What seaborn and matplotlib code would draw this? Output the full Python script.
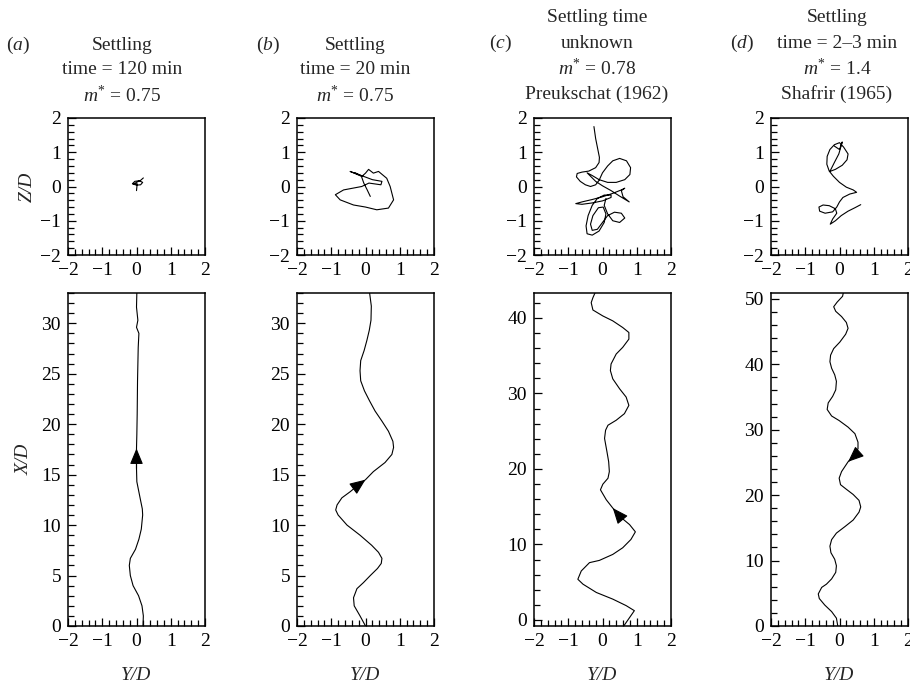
import numpy as np
import pandas as pd
import matplotlib
matplotlib.use("Agg")
import matplotlib.pyplot as plt
import seaborn as sns
from matplotlib.ticker import MultipleLocator

# ---------------- data ----------------
# top row: cross-stream trajectory (Y/D, Z/D)
a_top_Y = [0.0, 0.02, -0.12, -0.05, 0.08, 0.18, 0.12, 0.0, -0.1, 0.0, 0.12, 0.2]
a_top_Z = [-0.12, 0.08, 0.08, 0.15, 0.17, 0.12, 0.05, 0.04, 0.07, 0.12, 0.18, 0.25]

b_top_Y = [0.14, 0.05, -0.05, -0.12, -0.45, -0.2, 0.2, 0.48, 0.45, 0.1, -0.11, -0.64, -0.88,
           -0.74, -0.35, 0.0, 0.33, 0.67, 0.82, 0.72, 0.62, 0.38, 0.23, 0.09, 0.0, -0.1, -0.3]
b_top_Z = [-0.29, -0.1, 0.1, 0.3, 0.44, 0.35, 0.2, 0.15, 0.05, 0.1, 0.0, -0.1, -0.24,
           -0.39, -0.54, -0.6, -0.68, -0.63, -0.39, 0.0, 0.24, 0.44, 0.39, 0.5, 0.39, 0.3, 0.4]

c_top_Y = [-0.25, -0.2, -0.14, -0.09, -0.1,
           -0.2, -0.4, -0.6, -0.74, -0.76, -0.65, -0.5, -0.35, -0.2, -0.1,
           0.0, 0.15, 0.3, 0.5, 0.7, 0.82, 0.8, 0.65, 0.4, 0.15, -0.1, -0.3, -0.45,
           -0.35, -0.2, 0.0, 0.25, 0.5, 0.78, 0.6, 0.55, 0.65, 0.55, 0.3, 0.0, -0.3, -0.6,
           -0.78, -0.6, -0.3, 0.0, 0.25, 0.25, 0.05, -0.15,
           -0.3, -0.42, -0.48, -0.45, -0.3, -0.1, 0.05, 0.1, 0.02, -0.12, -0.28, -0.35,
           -0.3, -0.15, 0.0, 0.15, 0.35, 0.55, 0.65, 0.5, 0.3, 0.15, 0.05, 0.1]
c_top_Z = [1.75, 1.4, 1.1, 0.85, 0.7,
           0.55, 0.45, 0.42, 0.38, 0.28, 0.15, 0.05, 0.0, 0.05, 0.18,
           0.4, 0.6, 0.75, 0.82, 0.75, 0.55, 0.35, 0.2, 0.12, 0.12, 0.2, 0.32, 0.4,
           0.3, 0.15, 0.02, -0.12, -0.28, -0.45, -0.3, -0.12, -0.05, -0.1, -0.2, -0.3, -0.38, -0.45,
           -0.5, -0.52, -0.48, -0.42, -0.32, -0.25, -0.25, -0.35,
           -0.55, -0.85, -1.15, -1.38, -1.42, -1.3, -1.05, -0.8, -0.6, -0.62, -0.85, -1.1,
           -1.28, -1.25, -1.05, -0.85, -0.75, -0.78, -0.92, -1.05, -1.0, -0.8, -0.55, -0.35]

d_top_Y = [0.62, 0.45, 0.25, 0.05, -0.12, -0.27, -0.2, -0.08, -0.12, -0.3, -0.48, -0.6, -0.58,
           -0.42, -0.2, -0.08, 0.0, 0.1, 0.3, 0.5, 0.4, 0.2, 0.0, -0.18, -0.3, -0.37, -0.36,
           -0.28, -0.15, 0.0, 0.12, 0.25, 0.22, 0.08, -0.12, -0.28, -0.15, -0.02, 0.08, 0.0, -0.15]
d_top_Z = [-0.53, -0.62, -0.72, -0.85, -1.0, -1.1, -0.95, -0.78, -0.65, -0.56, -0.54, -0.6, -0.72,
           -0.78, -0.74, -0.6, -0.45, -0.32, -0.22, -0.17, -0.1, -0.02, 0.12, 0.3, 0.45, 0.65, 0.88,
           1.08, 1.22, 1.28, 1.15, 0.95, 0.78, 0.62, 0.5, 0.44, 0.7, 0.95, 1.3, 1.08, 1.18]

# bottom row: streamwise trajectory (Y/D, X/D)
a_bot_Y = [0.19, 0.2, 0.16, 0.06, -0.1, -0.18, -0.21, -0.18, -0.03, 0.07, 0.14, 0.18, 0.17,
           0.11, 0.01, 0.0, 0.0, 0.01, 0.02, 0.03, 0.05, 0.07, 0.0, 0.04, 0.0, 0.01]
a_bot_X = [0, 1, 2, 3, 4, 5, 6, 6.7, 7.6, 8.6, 9.6, 11, 11.6,
           12.6, 14.3, 15.6, 17.6, 19, 21, 24.3, 27.6, 29, 29.6, 30.3, 31.6, 33]

b_bot_Y = [0.0, -0.16, -0.33, -0.35, -0.25, -0.06, 0.14, 0.35, 0.46, 0.48, 0.38, 0.18, -0.16,
           -0.54, -0.8, -0.87, -0.83, -0.69, -0.45, -0.2, 0.0, 0.23, 0.57, 0.77, 0.82, 0.8,
           0.67, 0.48, 0.28, 0.12, -0.03, -0.14, -0.16, -0.14, -0.04, 0.04, 0.11, 0.16, 0.17, 0.12]
b_bot_X = [0, 1, 2, 2.8, 3.7, 4.3, 5, 5.7, 6.2, 6.7, 7.3, 8, 9,
           10, 11, 11.5, 12, 12.7, 13.3, 14, 14.5, 15.3, 16.2, 17, 17.7, 18.3,
           19.3, 20.3, 21.3, 22.3, 23.3, 24.3, 25.3, 26.3, 27.3, 28.3, 29.3, 30.3, 31.7, 33]

c_bot_Y = [0.62, 0.93, 0.69, 0.30, -0.18, -0.57, -0.72, -0.62, -0.38, -0.09, 0.30, 0.59, 0.83,
           0.96, 0.79, 0.50, 0.30, 0.11, -0.06, 0.01, 0.16, 0.20, 0.18, 0.13, 0.06, 0.09, 0.16,
           0.40, 0.64, 0.77, 0.69, 0.50, 0.30, 0.23, 0.25, 0.40, 0.59, 0.77, 0.77, 0.59, 0.30,
           0.01, -0.28, -0.33, -0.28, -0.21]
c_bot_X = [-0.8, 1.23, 1.9, 2.76, 3.64, 4.74, 5.39, 6.49, 7.59, 7.89, 8.68, 9.56, 10.66,
           11.67, 12.63, 13.73, 14.82, 15.92, 17.24, 17.98, 18.77, 19.65, 20.96, 22.28, 24.04, 25.13, 25.79,
           26.45, 27.32, 28.42, 29.52, 30.61, 31.93, 33.03, 33.9, 35.22, 36.1, 37.19, 38.07, 38.73, 39.61,
           40.26, 41.05, 42.02, 42.68, 43.4]

d_bot_Y = [-0.05, -0.09, -0.23, -0.43, -0.59, -0.62, -0.52, -0.38, -0.23, -0.11, -0.09, -0.14, -0.25,
           -0.28, -0.23, -0.09, 0.16, 0.40, 0.57, 0.62, 0.57, 0.40, 0.20, 0.03, -0.01, 0.06, 0.25,
           0.42, 0.54, 0.54, 0.45, 0.25, -0.01, -0.23, -0.36, -0.33, -0.20, -0.11, -0.09, -0.14, -0.23,
           -0.28, -0.26, -0.17, 0.01, 0.18, 0.25, 0.20, 0.06, -0.11, -0.17, -0.07, 0.09, 0.11]
d_bot_X = [0.0, 1.2, 2.2, 3.2, 4.2, 4.9, 5.9, 6.4, 7.2, 8.2, 9.2, 10.2, 11.2,
           12.2, 13.2, 14.2, 15.2, 16.2, 17.4, 18.2, 19.2, 20.1, 20.9, 21.6, 22.6, 23.6, 25.1,
           25.9, 27.1, 28.1, 29.4, 30.4, 31.4, 32.1, 33.1, 34.1, 35.1, 36.1, 37.4, 38.4, 39.4,
           40.4, 41.4, 42.4, 43.4, 44.6, 45.5, 46.4, 47.3, 48.1, 48.8, 49.5, 50.4, 50.9]

panel_letters = ["a", "b", "c", "d"]
titles = [["Settling", "time = 120 min", r"$m^{*}$ = 0.75"],
          ["Settling", "time = 20 min", r"$m^{*}$ = 0.75"],
          ["Settling time", "unknown", r"$m^{*}$ = 0.78", "Preukschat (1962)"],
          ["Settling", "time = 2–3 min", r"$m^{*}$ = 1.4", "Shafrir (1965)"]]
bot_ylims = [(0, 33), (0, 33), (-0.8, 43.3), (0, 50.9)]
bot_major = [5, 5, 10, 10]
bot_minor = [1, 1, 2, 2]
# arrow: (index of arrow tip, index of arrow tail) along each bottom trajectory
arrow_idx = [(16, 15), (20, 19), (16, 15), (26, 27)]

tops = [(a_top_Y, a_top_Z), (b_top_Y, b_top_Z), (c_top_Y, c_top_Z), (d_top_Y, d_top_Z)]
bots = [(a_bot_Y, a_bot_X), (b_bot_Y, b_bot_X), (c_bot_Y, c_bot_X), (d_bot_Y, d_bot_X)]

# ---------------- style ----------------
sns.set_style("ticks")
plt.rcParams["font.family"] = ["Liberation Serif", "DejaVu Serif"]
plt.rcParams["mathtext.fontset"] = "custom"
plt.rcParams["mathtext.rm"] = "Liberation Serif"
plt.rcParams["mathtext.it"] = "Liberation Serif:italic"
FS = 14

W, H = 910, 688
fig = plt.figure(figsize=(W / 100, H / 100), dpi=100)
fig.patch.set_facecolor("white")

lefts = [68, 297, 534, 771]
aw = 137
title_cx = [122, 355, 597, 837]
label_pos = [(18, 45), (268, 45), (500, 43), (742, 43)]
title_y3 = [45, 70, 95]
title_y4 = [17, 43, 68, 94]


def style_axis(ax, xmaj, xmin, ymaj, ymin):
    ax.xaxis.set_major_locator(MultipleLocator(xmaj))
    ax.xaxis.set_minor_locator(MultipleLocator(xmin))
    ax.yaxis.set_major_locator(MultipleLocator(ymaj))
    ax.yaxis.set_minor_locator(MultipleLocator(ymin))
    ax.tick_params(which="both", direction="in", top=False, right=False,
                   labelsize=FS, width=0.9, colors="black", pad=5)
    ax.tick_params(which="major", length=6)
    ax.tick_params(which="minor", length=4)
    for s in ax.spines.values():
        s.set_linewidth(1.1)
        s.set_color("black")
        s.set_visible(True)
    ax.set_facecolor("white")


for i in range(4):
    l = lefts[i]
    # top panel
    axt = fig.add_axes([l / W, 1 - 255 / H, aw / W, 137 / H])
    ty, tz = tops[i]
    sns.lineplot(x=ty, y=tz, sort=False, estimator=None, color="black", lw=0.8, ax=axt)
    axt.set_xlim(-2, 2)
    axt.set_ylim(-2, 2)
    style_axis(axt, 1, 0.2, 1, 0.2)
    axt.set_xlabel("")
    axt.set_ylabel("")

    # bottom panel
    axb = fig.add_axes([l / W, 1 - 626 / H, aw / W, 333 / H])
    by, bx = bots[i]
    sns.lineplot(x=by, y=bx, sort=False, estimator=None, color="black", lw=0.8, ax=axb)
    axb.set_xlim(-2, 2)
    axb.set_ylim(*bot_ylims[i])
    style_axis(axb, 1, 0.2, bot_major[i], bot_minor[i])
    axb.set_ylabel("")
    axb.set_xlabel("Y/D", fontsize=FS, fontstyle="italic", labelpad=12)
    tip, tail = arrow_idx[i]
    axb.annotate("", xy=(by[tip], bx[tip]), xytext=(by[tail], bx[tail]),
                 arrowprops=dict(arrowstyle="-|>,head_length=0.65,head_width=0.27",
                                 color="black", lw=0.8, mutation_scale=15,
                                 shrinkA=0, shrinkB=0))
    if i == 0:
        axt.set_ylabel("Z/D", fontsize=FS, fontstyle="italic", labelpad=3)
        axb.set_ylabel("X/D", fontsize=FS, fontstyle="italic", labelpad=6)

    # titles
    lines = titles[i]
    ys = title_y3 if len(lines) == 3 else title_y4
    for txt, yy in zip(lines, ys):
        fig.text(title_cx[i] / W, 1 - yy / H, txt, ha="center", va="center", fontsize=FS)
    lx, ly = label_pos[i]
    fig.text(lx / W, 1 - ly / H, "($%s$)" % panel_letters[i], ha="center", va="center", fontsize=FS)

fig.savefig("out.png", dpi=100, facecolor="white")
